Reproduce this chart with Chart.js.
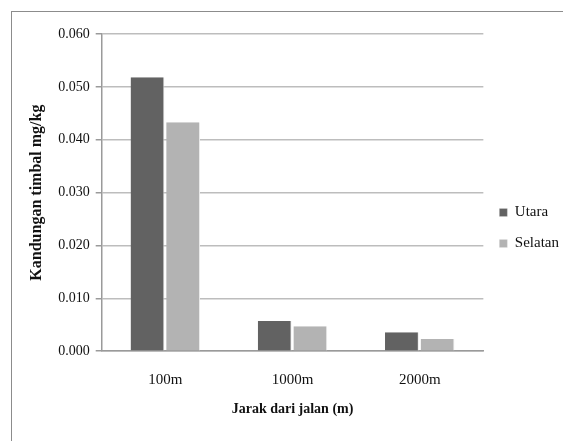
<!DOCTYPE html>
<html lang="en">
<head>
    <meta charset="UTF-8">
    <title>Kandungan timbal</title>
    <style>
        html, body {
            margin: 0;
            padding: 0;
            background: #fff;
            overflow: hidden;
        }
        .frame {
            position: absolute;
            left: 11px;
            top: 11px;
            width: 600px;
            height: 500px;
            border: 1px solid #8c8c8c;
        }
        .wrap {
            position: absolute;
            left: 0;
            top: 0;
            width: 563px;
            height: 441px;
        }
    </style>
</head>
<body>
    <div class="frame"></div>
    <div class="wrap">
        <canvas id="chart" width="563" height="441"></canvas>
    </div>

    <script src="https://cdn.jsdelivr.net/npm/chart.js"></script>
    <script>
        const categories = ['100m', '1000m', '2000m'];
        const utara = [0.0518, 0.0057, 0.0036];
        const selatan = [0.0433, 0.0047, 0.0023];

        const serif = '"Liberation Serif", "Times New Roman", serif';

        const ctx = document.getElementById('chart').getContext('2d');
        new Chart(ctx, {
            type: 'bar',
            data: {
                labels: categories,
                datasets: [
                    {
                        label: 'Utara',
                        data: utara,
                        backgroundColor: '#626262',
                        borderColor: '#ececec',
                        borderWidth: { right: 1 },
                        categoryPercentage: 0.56,
                        barPercentage: 0.95
                    },
                    {
                        label: 'Selatan',
                        data: selatan,
                        backgroundColor: '#b3b3b3',
                        borderColor: '#ececec',
                        borderWidth: { right: 1 },
                        categoryPercentage: 0.56,
                        barPercentage: 0.95
                    }
                ]
            },
            options: {
                responsive: false,
                animation: false,
                layout: {
                    padding: { left: 23, right: -6, top: 34, bottom: 19 }
                },
                plugins: {
                    tooltip: { enabled: false },
                    legend: {
                        position: 'right',
                        labels: {
                            boxWidth: 8,
                            boxHeight: 8,
                            padding: 16,
                            color: '#111',
                            font: { family: serif, size: 15 }
                        }
                    }
                },
                scales: {
                    x: {
                        grid: { display: false },
                        border: { color: '#9a9a9a', width: 1.5 },
                        ticks: {
                            color: '#111',
                            padding: 12,
                            font: { family: serif, size: 15 }
                        },
                        title: {
                            display: true,
                            text: 'Jarak dari jalan (m)',
                            color: '#111',
                            padding: { top: 0 },
                            font: { family: serif, size: 14, weight: 'bold' }
                        }
                    },
                    y: {
                        min: 0,
                        max: 0.06,
                        border: { color: '#9a9a9a', width: 1.5 },
                        grid: {
                            color: '#bdbdbd',
                            lineWidth: 1.5,
                            tickLength: 6,
                            tickColor: '#9a9a9a'
                        },
                        ticks: {
                            stepSize: 0.01,
                            color: '#111',
                            padding: 6,
                            font: { family: serif, size: 14 },
                            callback: function(value) {
                                return value.toFixed(3);
                            }
                        },
                        title: {
                            display: true,
                            text: 'Kandungan timbal mg/kg',
                            color: '#111',
                            padding: { bottom: 6 },
                            font: { family: serif, size: 16, weight: 'bold' }
                        }
                    }
                }
            }
        });
    </script>
</body>
</html>
